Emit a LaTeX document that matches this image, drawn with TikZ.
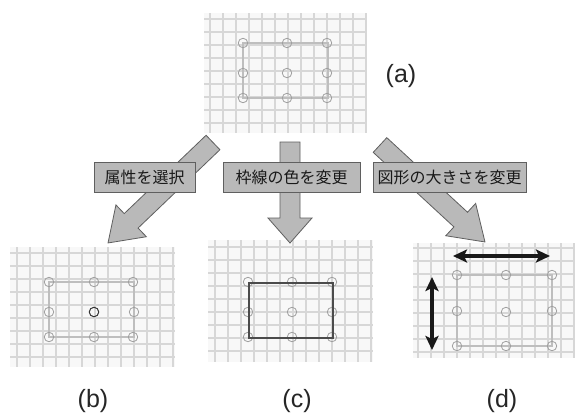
\documentclass[tikz,border=0pt]{standalone}
\usepackage{fontspec}
\setmainfont{Liberation Sans}
\newfontfamily\jpfont{Noto Sans CJK JP}
\usetikzlibrary{arrows.meta}
\definecolor{gridbg}{RGB}{248,248,248}
\definecolor{gridln}{RGB}{215,215,215}
\definecolor{circln}{RGB}{160,160,160}
\definecolor{rectlt}{RGB}{190,190,190}
\definecolor{rectdk}{RGB}{75,75,75}
\definecolor{arrfill}{RGB}{185,185,185}
\definecolor{arrline}{RGB}{95,95,95}
\tikzset{
  gridline/.style={draw=gridln, line width=2pt},
  handle/.style={circle, draw=circln, line width=0.8pt, fill=none, minimum size=9.5pt, inner sep=0pt},
  selhandle/.style={handle, draw=black!80, line width=1pt},
  frame lt/.style={draw=rectlt, line width=2pt},
  frame dk/.style={draw=rectdk, line width=2.6pt},
  fatarrow/.style={fill=arrfill, draw=arrline, line width=0.8pt, line join=miter},
  labelbox/.style={draw=arrline, fill=arrfill, line width=0.8pt, minimum height=30pt, inner sep=0pt, font=\jpfont\fontsize{16}{18}\selectfont, text=black!90},
  caption/.style={font=\fontsize{25}{28}\selectfont, text=black!85},
  dblarrow/.style={line width=4pt, black!90, {Stealth[length=14pt,width=13pt,inset=3pt]}-{Stealth[length=14pt,width=13pt,inset=3pt]}}
}
% grid image: x0 y0 x1 y1 vertical-list horizontal-list
\newcommand\gridimg[6]{%
  \begin{scope}
    \clip (#1,#2) rectangle (#3,#4);
    \fill[gridbg] (#1,#2) rectangle (#3,#4);
    \foreach \gx in {#5} {\draw[gridline] (\gx,#2) -- (\gx,#4);}
    \foreach \gy in {#6} {\draw[gridline] (#1,\gy) -- (#3,\gy);}
  \end{scope}}
\newcommand\fatshape[3]{%
  (0,10) -- (#1-#2,10) -- (#1-#2,22) -- (#1,0) -- (#1-#2,-22) -- (#1-#2,-10) -- (0,-10) -- cycle}
\begin{document}
\begin{tikzpicture}[x=1pt,y=-1pt]
\useasboundingbox (0,0) rectangle (575,416);
\fill[white] (0,0) rectangle (575,416);

% ---------- (a) ----------
\gridimg{204}{13}{367}{133}{210,223,...,366}{19,32,...,124}
\draw[frame lt] (243,43) rectangle (328,98);
\foreach \i/\x/\y in {1/243/43,2/287/43,3/327/43,4/243/73,5/287/73,6/327/73,7/243/98,8/287/98,9/327/98}
  \node[handle] (ha\i) at (\x,\y) {};
\node[caption] (capA) at (401,76) {(a)};

% ---------- (b) ----------
\gridimg{10}{247}{175}{367}{17,30,...,175}{253,266,...,360}
\draw[frame lt] (49,282) rectangle (134,337);
\foreach \i/\x/\y in {1/49/282,2/94/282,3/133/282,4/49/312,6/134/312,7/49/337,8/94/337,9/133/337}
  \node[handle] (hb\i) at (\x,\y) {};
\node[selhandle] (hb5) at (94,312) {};
\node[caption] (capB) at (93,401) {(b)};

% ---------- (c) ----------
\gridimg{208}{240}{373}{362}{215,228,...,373}{247,260,...,355}
\foreach \i/\x/\y in {1/248/282,2/292/282,3/332/282,4/248/312,5/292/312,6/332/312,7/248/337,8/292/337,9/332/337}
  \node[handle] (hc\i) at (\x,\y) {};
\draw[frame dk] (249,283) rectangle (333,338);
\node[caption] (capC) at (297,401) {(c)};

% ---------- (d) ----------
\gridimg{413}{243}{575}{358}{418,431,...,575}{248,261,...,355}
\draw[frame lt] (457,275) rectangle (552,346);
\foreach \i/\x/\y in {1/457/275,2/506/275,3/552/275,4/457/311,5/506/312,6/552/311,7/457/346,8/506/346,9/552/346}
  \node[handle] (hd\i) at (\x,\y) {};
\coordinate (hL) at (453,256);
\coordinate (hR) at (550,256);
\coordinate (vT) at (432,277);
\coordinate (vB) at (432,350);
\draw[dblarrow] (hL) -- (hR);
\draw[dblarrow] (vT) -- (vB);
\node[caption] (capD) at (502,401) {(d)};

% ---------- big arrows ----------
\coordinate (tailL) at (213,142.5);
\coordinate (tailM) at (290,142);
\coordinate (tailR) at (380,145);
\begin{scope}[shift={(tailL)}, rotate=-136.26]
  \draw[fatarrow] \fatshape{145.3}{32}{};
\end{scope}
\begin{scope}[shift={(tailM)}, rotate=-90]
  \draw[fatarrow] \fatshape{101}{25}{};
\end{scope}
\begin{scope}[shift={(tailR)}, rotate=-42.73]
  \draw[fatarrow] \fatshape{142.9}{33}{};
\end{scope}

% ---------- labels ----------
\node[labelbox, minimum width=101pt] (lb1) at (144.5,177) {属性を選択};
\node[labelbox, minimum width=137pt] (lb2) at (291.5,177) {枠線の色を変更};
\node[labelbox, minimum width=153pt] (lb3) at (449.5,177) {図形の大きさを変更};
\end{tikzpicture}
\end{document}
